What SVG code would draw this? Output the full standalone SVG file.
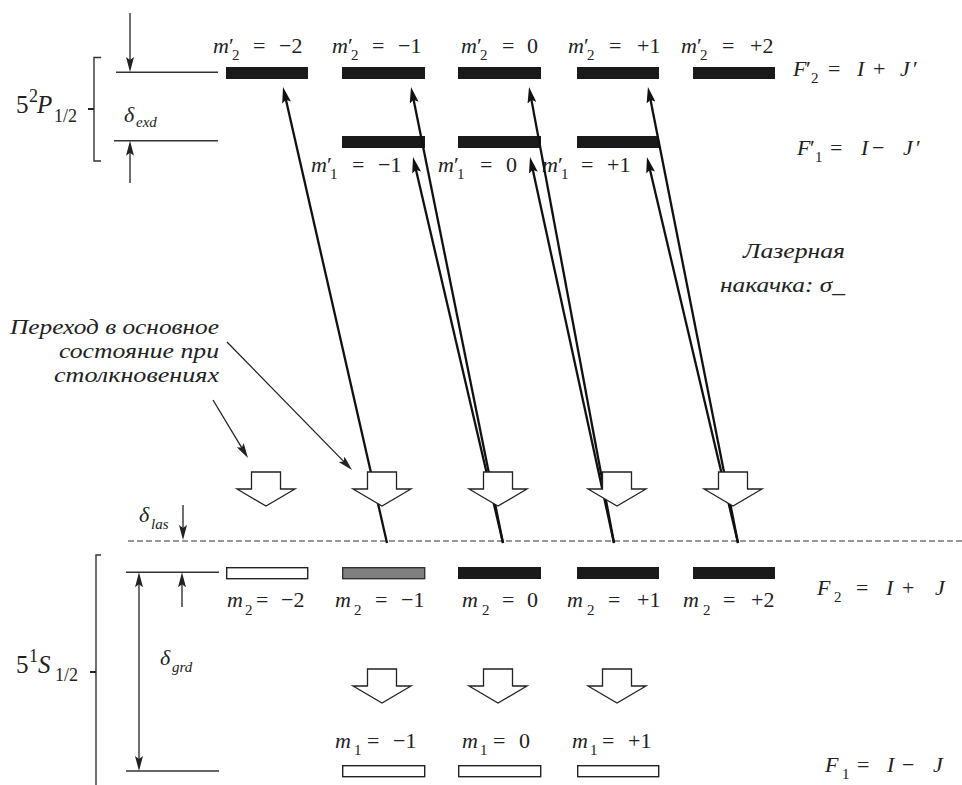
<svg xmlns="http://www.w3.org/2000/svg" width="962" height="785" viewBox="0 0 962 785" font-family="'Liberation Serif', 'DejaVu Serif', serif">
<defs>
<style>
text{font-family:'Liberation Serif','DejaVu Serif',serif;font-size:22px;fill:#222}
.i{font-style:italic}
.s{font-size:15px}
.big{font-size:25px}
.bs{font-size:18px}
.note{font-size:21px;font-style:italic}
.bar{fill:#1a1a1a}
.wbar{fill:#fff;stroke:#222;stroke-width:1.4}
.gbar{fill:#808080;stroke:#333;stroke-width:1.4}
.ref{stroke:#333;stroke-width:1.4;fill:none}
.thin{stroke:#222;stroke-width:1.3;fill:none}
.laser{stroke:#111;stroke-width:2.3;fill:none;marker-end:url(#ah)}
</style>
<marker id="ah" markerUnits="userSpaceOnUse" markerWidth="16" markerHeight="9" refX="8" refY="4.5" orient="auto"><path d="M0,0 L16,4.5 L0,9 L3,4.5 z" fill="#111"/></marker>
<marker id="th" markerUnits="userSpaceOnUse" markerWidth="15" markerHeight="8" refX="7.5" refY="4" orient="auto-start-reverse"><path d="M0,0 L15,4 L0,8 L3,4 z" fill="#222"/></marker>
<path id="blkarrow" d="M-14.5,0 H14.5 V17 H29 L0,34 L-29,17 H-14.5 Z" fill="#fff" stroke="#222" stroke-width="1.3"/>
</defs>

<g id="scale">
<path class="ref" d="M101,57.5 H94 V161 H101"/>
<path stroke="#222" stroke-width="2" d="M88,109 H94"/>
<path class="ref" d="M101,555 H96 V785"/>
<path stroke="#222" stroke-width="2" d="M90,672 H96"/>
<path class="ref" d="M116,72.3 H218"/>
<path class="ref" d="M114,140.7 H218"/>
<path class="ref" d="M126,572.3 H219"/>
<path class="ref" d="M126,771 H219"/>
<path d="M128,541 H962" stroke="#333" stroke-width="1.2" stroke-dasharray="6 3" fill="none"/>
<text y="113"><tspan x="16" class="big">5</tspan><tspan x="29" dy="-11" class="bs">2</tspan><tspan x="37" dy="11" class="big i">P</tspan><tspan x="54" dy="9" class="bs">1/2</tspan></text>
<text y="673"><tspan x="16" class="big">5</tspan><tspan x="29" dy="-11" class="bs">1</tspan><tspan x="38" dy="11" class="big i">S</tspan><tspan x="55" dy="8" class="bs">1/2</tspan></text>
<text y="122"><tspan x="124" class="i">δ</tspan><tspan x="136" dy="5" class="i s">exd</tspan></text>
<text y="522"><tspan x="139" class="i">δ</tspan><tspan x="151" dy="7" class="i s">las</tspan></text>
<text y="665"><tspan x="160" class="i">δ</tspan><tspan x="172" dy="7" class="i s">grd</tspan></text>
</g>

<g id="e2m-2"><rect class="bar" x="226" y="67" width="82" height="12"/><text y="53"><tspan x="213" class="i">m</tspan><tspan x="229">′</tspan><tspan x="232" dy="7" class="s">2</tspan><tspan x="253" dy="-7">=</tspan><tspan x="279">−2</tspan></text></g>
<g id="e2m-1"><rect class="bar" x="342" y="67" width="83" height="12"/><text y="53"><tspan x="332" class="i">m</tspan><tspan x="348">′</tspan><tspan x="351" dy="7" class="s">2</tspan><tspan x="372" dy="-7">=</tspan><tspan x="398">−1</tspan></text></g>
<g id="e2m0"><rect class="bar" x="458" y="67" width="83" height="12"/><text y="53"><tspan x="461" class="i">m</tspan><tspan x="477">′</tspan><tspan x="480" dy="7" class="s">2</tspan><tspan x="502" dy="-7">=</tspan><tspan x="527">0</tspan></text></g>
<g id="e2m+1"><rect class="bar" x="577" y="67" width="82" height="12"/><text y="53"><tspan x="568" class="i">m</tspan><tspan x="584">′</tspan><tspan x="587" dy="7" class="s">2</tspan><tspan x="609" dy="-7">=</tspan><tspan x="637">+1</tspan></text></g>
<g id="e2m+2"><rect class="bar" x="693" y="67" width="82" height="12"/><text y="53"><tspan x="681" class="i">m</tspan><tspan x="697">′</tspan><tspan x="700" dy="7" class="s">2</tspan><tspan x="722" dy="-7">=</tspan><tspan x="750">+2</tspan></text></g>
<g id="F2p"><text y="76"><tspan x="793" class="i">F</tspan><tspan x="806">′</tspan><tspan x="811" dy="7" class="s">2</tspan><tspan x="828" dy="-7">=</tspan><tspan x="857" class="i">I</tspan><tspan x="873">+</tspan><tspan x="900" class="i">J</tspan><tspan x="913">′</tspan></text></g>

<g id="e1m-1"><rect class="bar" x="342" y="136" width="83" height="12"/><text y="172"><tspan x="311" class="i">m</tspan><tspan x="327">′</tspan><tspan x="330" dy="7" class="s">1</tspan><tspan x="352" dy="-7">=</tspan><tspan x="378">−1</tspan></text></g>
<g id="e1m0"><rect class="bar" x="458" y="136" width="83" height="12"/><text y="172"><tspan x="438" class="i">m</tspan><tspan x="454">′</tspan><tspan x="457" dy="7" class="s">1</tspan><tspan x="480" dy="-7">=</tspan><tspan x="506">0</tspan></text></g>
<g id="e1m+1"><rect class="bar" x="577" y="136" width="82" height="12"/><text y="172"><tspan x="542" class="i">m</tspan><tspan x="558">′</tspan><tspan x="561" dy="7" class="s">1</tspan><tspan x="581" dy="-7">=</tspan><tspan x="607">+1</tspan></text></g>
<g id="F1p"><text y="155"><tspan x="797" class="i">F</tspan><tspan x="810">′</tspan><tspan x="815" dy="7" class="s">1</tspan><tspan x="830" dy="-7">=</tspan><tspan x="861" class="i">I</tspan><tspan x="872">−</tspan><tspan x="903" class="i">J</tspan><tspan x="916">′</tspan></text></g>

<g id="g2m-2"><rect class="wbar" x="226.7" y="567.7" width="81" height="11"/><text y="607"><tspan x="227" class="i">m</tspan><tspan x="245" dy="8" class="s">2</tspan><tspan x="256" dy="-8">=</tspan><tspan x="281">−2</tspan></text></g>
<g id="g2m-1"><rect class="gbar" x="342.7" y="567.7" width="82" height="11"/><text y="607"><tspan x="335" class="i">m</tspan><tspan x="354" dy="8" class="s">2</tspan><tspan x="375" dy="-8">=</tspan><tspan x="401">−1</tspan></text></g>
<g id="g2m0"><rect class="bar" x="458" y="567" width="83" height="12"/><text y="607"><tspan x="462" class="i">m</tspan><tspan x="482" dy="8" class="s">2</tspan><tspan x="502" dy="-8">=</tspan><tspan x="527">0</tspan></text></g>
<g id="g2m+1"><rect class="bar" x="577" y="567" width="82" height="12"/><text y="607"><tspan x="567" class="i">m</tspan><tspan x="587" dy="8" class="s">2</tspan><tspan x="608" dy="-8">=</tspan><tspan x="637">+1</tspan></text></g>
<g id="g2m+2"><rect class="bar" x="693" y="567" width="82" height="12"/><text y="607"><tspan x="683" class="i">m</tspan><tspan x="703" dy="8" class="s">2</tspan><tspan x="723" dy="-8">=</tspan><tspan x="751">+2</tspan></text></g>
<g id="F2"><text y="595"><tspan x="817" class="i">F</tspan><tspan x="834" dy="7" class="s">2</tspan><tspan x="856" dy="-7">=</tspan><tspan x="886" class="i">I</tspan><tspan x="902">+</tspan><tspan x="935" class="i">J</tspan></text></g>

<g id="g1m-1"><rect class="wbar" x="342.7" y="765.7" width="82" height="11"/><text y="748"><tspan x="335" class="i">m</tspan><tspan x="354" dy="7" class="s">1</tspan><tspan x="367" dy="-7">=</tspan><tspan x="393">−1</tspan></text></g>
<g id="g1m0"><rect class="wbar" x="458.7" y="765.7" width="82" height="11"/><text y="748"><tspan x="462" class="i">m</tspan><tspan x="480" dy="7" class="s">1</tspan><tspan x="493" dy="-7">=</tspan><tspan x="519">0</tspan></text></g>
<g id="g1m+1"><rect class="wbar" x="577.7" y="765.7" width="81" height="11"/><text y="748"><tspan x="572" class="i">m</tspan><tspan x="590" dy="7" class="s">1</tspan><tspan x="602" dy="-7">=</tspan><tspan x="628">+1</tspan></text></g>
<g id="F1"><text y="772"><tspan x="825" class="i">F</tspan><tspan x="842" dy="7" class="s">1</tspan><tspan x="857" dy="-7">=</tspan><tspan x="887" class="i">I</tspan><tspan x="902">−</tspan><tspan x="933" class="i">J</tspan></text></g>

<g id="note-collisions">
<text class="note" text-anchor="end" x="219" y="334" textLength="209" lengthAdjust="spacingAndGlyphs">Переход в основное</text>
<text class="note" text-anchor="end" x="219" y="358" textLength="160" lengthAdjust="spacingAndGlyphs">состояние при</text>
<text class="note" text-anchor="end" x="219" y="382" textLength="165" lengthAdjust="spacingAndGlyphs">столкновениях</text>
</g>
<g id="note-laser">
<text class="note" text-anchor="end" x="845" y="258" textLength="102" lengthAdjust="spacingAndGlyphs">Лазерная</text>
<text class="note" text-anchor="end" x="845" y="292" textLength="125" lengthAdjust="spacingAndGlyphs">накачка: σ_</text>
</g>

<g id="connectors">
<path class="laser" d="M387,543 L284.8,94.8"/>
<path class="laser" d="M503,543 L412.6,94.8"/>
<path class="laser" d="M503,543 L414.8,164.8"/>
<path class="laser" d="M614,543 L530.5,94.9"/>
<path class="laser" d="M614,543 L531.7,164.8"/>
<path class="laser" d="M738,543 L649.5,94.8"/>
<path class="laser" d="M738,543 L648.8,164.8"/>
<path class="thin" d="M130,13 V64.5" marker-end="url(#th)"/>
<path class="thin" d="M130,183 V148.2" marker-end="url(#th)"/>
<path class="thin" d="M183,505 V532.5" marker-end="url(#th)"/>
<path class="thin" d="M139,579.8 V763.5" marker-start="url(#th)" marker-end="url(#th)"/>
<path class="thin" d="M182,607 V579.8" marker-end="url(#th)"/>
<path class="thin" d="M227,342 L346.8,464.6" marker-end="url(#th)"/>
<path class="thin" d="M213,400 L244.1,451.6" marker-end="url(#th)"/>
</g>

<g id="collision-arrows">
<use href="#blkarrow" x="266" y="472"/>
<use href="#blkarrow" x="382" y="472"/>
<use href="#blkarrow" x="498" y="472"/>
<use href="#blkarrow" x="617" y="472"/>
<use href="#blkarrow" x="733" y="472"/>
<use href="#blkarrow" x="382" y="669"/>
<use href="#blkarrow" x="498" y="669"/>
<use href="#blkarrow" x="617" y="669"/>
</g>
</svg>
